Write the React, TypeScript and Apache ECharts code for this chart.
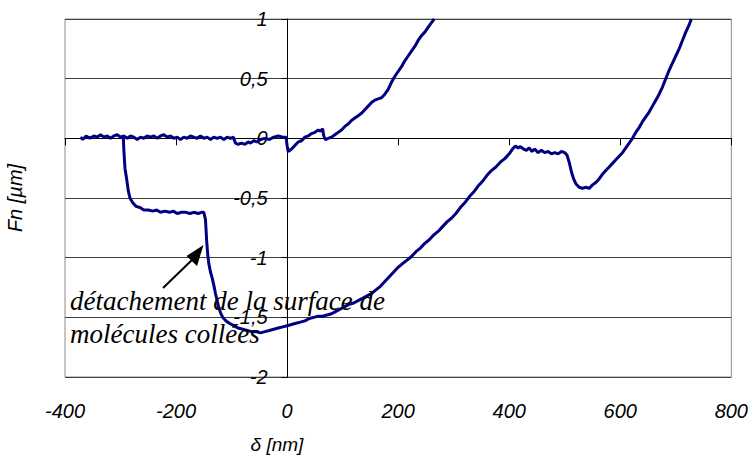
import React, { useEffect, useRef } from "react";
import * as echarts from "echarts";

const xTicks = [-400, -200, 0, 200, 400, 600, 800];
const yTicks = [-2, -1.5, -1, -0.5, 0, 0.5, 1];

// approach curve (δ nm, Fn µm)
const approachCurve: [number, number][] = [
  [-372, 0.01], [-368, -0.01], [-362, 0.02], [-355, 0.0], [-348, 0.02], [-342, 0.01], [-336, 0.03],
  [-330, 0.01], [-324, 0.02], [-318, 0.0], [-312, 0.02], [-306, 0.03], [-300, 0.01], [-294, 0.02],
  [-288, 0.0], [-282, 0.02], [-276, 0.01], [-270, -0.01], [-264, 0.01], [-258, 0.0], [-252, 0.02],
  [-246, 0.01], [-240, 0.02], [-234, 0.0], [-228, 0.02], [-222, 0.03], [-216, 0.01], [-210, 0.02],
  [-204, 0.0], [-198, 0.01], [-192, -0.01], [-186, 0.01], [-180, 0.0], [-174, 0.02], [-168, 0.01],
  [-162, 0.0], [-156, 0.02], [-150, 0.0], [-144, 0.01], [-138, -0.01], [-132, 0.01], [-126, 0.0],
  [-120, 0.01], [-114, -0.01], [-108, 0.01], [-102, 0.0], [-97, 0.01], [-93, -0.04], [-88, -0.05],
  [-82, -0.04], [-76, -0.05], [-70, -0.03], [-66, -0.04], [-60, -0.02], [-54, -0.03], [-48, -0.01],
  [-40, 0.0], [-32, -0.01], [-24, 0.01], [-16, 0.02], [-8, 0.01], [-2, 0.01], [0, -0.06], [2, -0.11],
  [8, -0.09], [14, -0.06], [20, -0.03], [26, -0.02], [32, 0.01], [38, 0.02], [44, 0.04], [50, 0.05],
  [56, 0.07], [60, 0.06], [64, 0.08], [66, 0.02], [69, -0.01], [74, 0.0], [80, 0.01], [86, 0.03],
  [92, 0.05], [98, 0.07], [104, 0.1], [110, 0.12], [116, 0.15], [122, 0.17], [128, 0.19], [134, 0.21],
  [140, 0.24], [146, 0.27], [152, 0.3], [158, 0.32], [164, 0.33], [170, 0.34], [176, 0.37], [182, 0.41],
  [188, 0.47], [194, 0.52], [200, 0.56], [206, 0.6], [212, 0.65], [218, 0.69], [224, 0.73], [230, 0.77],
  [236, 0.82], [242, 0.86], [248, 0.89], [254, 0.93], [260, 0.97], [265, 1.0],
];

// retraction curve (δ nm, Fn µm)
const retractCurve: [number, number][] = [
  [-295, 0.01], [-294, -0.1], [-292, -0.25], [-289, -0.34], [-286, -0.44], [-283, -0.5], [-278, -0.54],
  [-272, -0.57], [-265, -0.58], [-258, -0.6], [-250, -0.6], [-242, -0.61], [-235, -0.6], [-228, -0.62],
  [-220, -0.61], [-212, -0.62], [-205, -0.61], [-198, -0.63], [-190, -0.62], [-182, -0.62], [-175, -0.63],
  [-168, -0.62], [-160, -0.63], [-154, -0.62], [-150, -0.62], [-147, -0.68], [-145, -0.85], [-143, -0.97],
  [-141, -1.05], [-138, -1.12], [-135, -1.17], [-132, -1.23], [-129, -1.3], [-126, -1.36], [-123, -1.42],
  [-120, -1.46], [-116, -1.5], [-110, -1.53], [-104, -1.55], [-96, -1.57], [-88, -1.59], [-80, -1.6],
  [-72, -1.61], [-64, -1.62], [-56, -1.62], [-48, -1.63], [-40, -1.62], [-32, -1.61], [-24, -1.6],
  [-16, -1.59], [-8, -1.58], [0, -1.57], [8, -1.56], [16, -1.55], [24, -1.54], [32, -1.53], [40, -1.51],
  [48, -1.5], [56, -1.49], [64, -1.49], [72, -1.48], [80, -1.47], [88, -1.45], [96, -1.43], [104, -1.41],
  [112, -1.39], [120, -1.38], [128, -1.36], [136, -1.34], [144, -1.32], [152, -1.3], [160, -1.27],
  [168, -1.24], [176, -1.2], [184, -1.16], [192, -1.12], [200, -1.08], [208, -1.05], [216, -1.02],
  [224, -0.99], [232, -0.95], [240, -0.92], [248, -0.88], [256, -0.85], [264, -0.81], [272, -0.78],
  [280, -0.74], [288, -0.7], [296, -0.67], [304, -0.63], [312, -0.58], [320, -0.54], [328, -0.49],
  [336, -0.45], [344, -0.4], [352, -0.36], [360, -0.31], [368, -0.27], [376, -0.24], [384, -0.2],
  [392, -0.17], [400, -0.13], [406, -0.09], [411, -0.065], [416, -0.08], [420, -0.07], [426, -0.09],
  [431, -0.1], [436, -0.08], [441, -0.11], [446, -0.09], [452, -0.12], [458, -0.1], [464, -0.12],
  [470, -0.11], [476, -0.13], [482, -0.12], [488, -0.13], [494, -0.11], [500, -0.12], [504, -0.14],
  [508, -0.2], [512, -0.28], [516, -0.34], [520, -0.38], [526, -0.41], [532, -0.42], [538, -0.41],
  [544, -0.42], [550, -0.39], [556, -0.37], [562, -0.34], [568, -0.3], [574, -0.27], [580, -0.24],
  [586, -0.21], [592, -0.18], [598, -0.15], [604, -0.12], [610, -0.08], [616, -0.04], [622, 0.0],
  [628, 0.05], [634, 0.09], [640, 0.14], [646, 0.18], [652, 0.22], [658, 0.27], [664, 0.32],
  [670, 0.37], [676, 0.43], [682, 0.5], [688, 0.57], [694, 0.63], [700, 0.69], [706, 0.75],
  [712, 0.82], [718, 0.89], [724, 0.95], [728, 1.0],
];

const xTitle = "δ [nm]";
const yTitle = "Fn [µm]";
const noteLines = ["détachement de la surface de", "molécules collées"];

const GRID_LEFT = 65;
const GRID_RIGHT = 18;
const CHART_W = 751;

export default function App() {
  const ref = useRef<HTMLDivElement>(null);
  useEffect(() => {
    if (!ref.current) return;
    const chart = echarts.init(ref.current, null, { renderer: "svg" });
    const sans = "'Liberation Sans', Arial, sans-serif";
    const serif = "'Liberation Serif', 'Times New Roman', serif";
    const xMin = xTicks[0];
    const xMax = xTicks[xTicks.length - 1];
    const plotW = CHART_W - GRID_LEFT - GRID_RIGHT;
    // shift the y axis from the plot's left edge to δ = 0
    const yAxisOffset = -((0 - xMin) / (xMax - xMin)) * plotW;
    chart.setOption({
      animation: false,
      backgroundColor: "#ffffff",
      grid: {
        left: GRID_LEFT,
        right: GRID_RIGHT,
        top: 19,
        bottom: 81,
        show: true,
        borderColor: "#8c8c8c",
        borderWidth: 1,
        backgroundColor: "transparent",
      },
      xAxis: [
        {
          type: "value",
          min: xMin,
          max: xMax,
          interval: 200,
          axisLine: { show: true, onZero: true, lineStyle: { color: "#000", width: 1 } },
          axisTick: { show: true, length: 7, lineStyle: { color: "#000" } },
          axisLabel: { show: false },
          splitLine: { show: false },
        },
        {
          type: "value",
          position: "bottom",
          min: xMin,
          max: xMax,
          interval: 200,
          axisLine: { show: false, onZero: false },
          axisTick: { show: false },
          axisLabel: {
            show: true,
            margin: 24,
            fontFamily: sans,
            fontStyle: "italic",
            fontSize: 20,
            color: "#000",
          },
          splitLine: { show: false },
        },
      ],
      yAxis: {
        type: "value",
        position: "left",
        offset: yAxisOffset,
        min: yTicks[0],
        max: yTicks[yTicks.length - 1],
        interval: 0.5,
        axisLine: { show: true, onZero: false, lineStyle: { color: "#000", width: 1 } },
        axisTick: { show: true, length: 6, lineStyle: { color: "#000" } },
        axisLabel: {
          margin: 20,
          fontFamily: sans,
          fontStyle: "italic",
          fontSize: 20,
          color: "#000",
          formatter: (v: number) => String(v).replace(".", ","),
        },
        splitLine: { show: true, lineStyle: { color: "#404040", width: 1 } },
      },
      series: [
        {
          type: "line",
          xAxisIndex: 0,
          data: approachCurve,
          showSymbol: false,
          symbol: "none",
          lineStyle: { color: "#000080", width: 3 },
          z: 3,
        },
        {
          type: "line",
          xAxisIndex: 0,
          data: retractCurve,
          showSymbol: false,
          symbol: "none",
          lineStyle: { color: "#000080", width: 3 },
          z: 3,
        },
      ],
      graphic: [
        {
          type: "text",
          x: 15,
          y: 198,
          rotation: Math.PI / 2,
          style: {
            text: yTitle,
            font: `italic 20px ${sans}`,
            fill: "#000",
            textAlign: "center",
            textVerticalAlign: "middle",
          },
        },
        {
          type: "text",
          x: 277,
          y: 444,
          style: {
            text: xTitle,
            font: `italic 19px ${sans}`,
            fill: "#000",
            textAlign: "center",
            textVerticalAlign: "middle",
          },
        },
        {
          type: "line",
          z: 100,
          shape: { x1: 163, y1: 288, x2: 193, y2: 259 },
          style: { stroke: "#000", lineWidth: 2 },
        },
        {
          type: "polygon",
          z: 100,
          shape: { points: [[203.5, 245], [186.5, 256], [197, 266]] },
          style: { fill: "#000" },
        },
        {
          type: "text",
          z: 100,
          x: 70,
          y: 301,
          style: {
            text: noteLines[0],
            font: `italic 27px ${serif}`,
            fill: "#000",
            textAlign: "left",
            textVerticalAlign: "middle",
          },
        },
        {
          type: "text",
          z: 100,
          x: 70,
          y: 334,
          style: {
            text: noteLines[1],
            font: `italic 27px ${serif}`,
            fill: "#000",
            textAlign: "left",
            textVerticalAlign: "middle",
          },
        },
      ],
    });
    return () => chart.dispose();
  }, []);
  return (
    <div
      ref={ref}
      style={{ position: "absolute", left: 0, top: 0, width: CHART_W, height: 458 }}
    />
  );
}
